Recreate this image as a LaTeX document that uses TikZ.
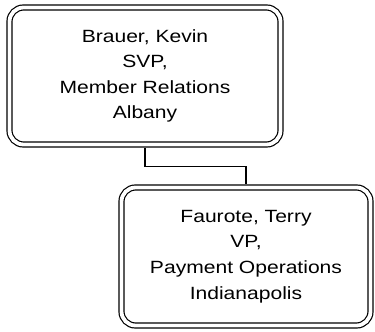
\documentclass[tikz,border=0pt]{standalone}
\usepackage{fontspec}
\setmainfont{Liberation Sans}[FakeStretch=1.19]
\begin{document}
\begin{tikzpicture}[x=1pt,y=-1pt,
  person/.style={draw=black, rectangle, rounded corners=14pt, double=white,
    double distance=3.8pt, line width=1.2pt, inner sep=0pt, align=center,
    font=\fontsize{17.7}{25.6}\selectfont},
  link/.style={draw=black, line width=1.2pt, shorten <=3.1pt, shorten >=3.1pt}]
\useasboundingbox (0,0) rectangle (375,332);
\fill[white] (0,0) rectangle (375,332);
\node[person, minimum width=271pt, minimum height=137pt] (b1) at (145,76)
  {Brauer, Kevin\\SVP,\\Member Relations\\Albany};
\node[person, minimum width=249pt, minimum height=138pt] (b2) at (246,256.5)
  {Faurote, Terry\\VP,\\Payment Operations\\Indianapolis};
\draw[link] (b1.south) -- ++(0,21.5) -| (b2.north);
\end{tikzpicture}
\end{document}
